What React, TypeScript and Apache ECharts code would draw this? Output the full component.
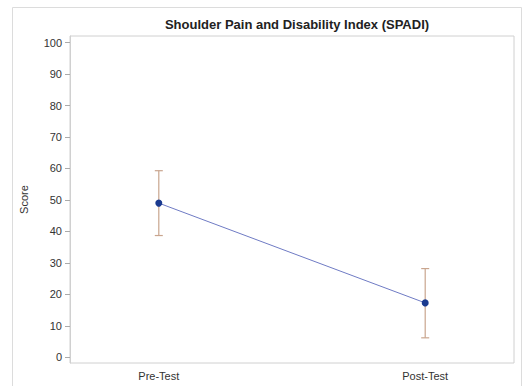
import React, { useEffect, useRef } from "react";
import * as echarts from "echarts";

const categories = ["Pre-Test", "Post-Test"];
const means = [49, 17.3];
const lowers = [38.7, 6.2];
const uppers = [59.3, 28.2];
const yTicks = [0, 10, 20, 30, 40, 50, 60, 70, 80, 90, 100];

export default function App() {
  const ref = useRef<HTMLDivElement>(null);
  useEffect(() => {
    if (!ref.current) return;
    const chart = echarts.init(ref.current, null, { renderer: "svg" });
    const lineData = means.map((m, i) => [i, m]);
    const errData = means.map((_, i) => [i, lowers[i], uppers[i]]);
    chart.setOption({
      animation: false,
      backgroundColor: "#fff",
      title: {
        text: "Shoulder Pain and Disability Index (SPADI)",
        left: 292,
        textAlign: "center",
        top: 13,
        textStyle: { fontFamily: "Liberation Sans, Arial, sans-serif", fontSize: 13, fontWeight: "bold", color: "#222" },
      },
      graphic: [
        {
          type: "rect",
          shape: { x: 12.5, y: 7.5, width: 509, height: 400 },
          style: { fill: "none", stroke: "#dcdcdc", lineWidth: 1 },
          silent: true,
          z: -1,
        },
      ],
      grid: { left: 70, right: 10, top: 36, bottom: 23, show: true, borderColor: "#d0d0d0", borderWidth: 1 },
      xAxis: {
        type: "value",
        min: -1 / 3,
        max: 4 / 3,
        splitLine: { show: false },
        axisLine: { show: false },
        axisTick: { show: false },
        axisLabel: {
          customValues: [0, 1],
          formatter: (v: number) => categories[Math.round(v)] ?? "",
          color: "#333",
          fontSize: 11,
          fontFamily: "Liberation Sans, Arial, sans-serif",
          margin: 7,
        },
      },
      yAxis: {
        type: "value",
        min: -1.8,
        max: 102.1,
        name: "Score",
        nameLocation: "middle",
        nameGap: 41,
        nameTextStyle: { color: "#333", fontSize: 11, fontFamily: "Liberation Sans, Arial, sans-serif" },
        splitLine: { show: false },
        axisLine: { show: true, onZero: false, lineStyle: { color: "#d0d0d0" } },
        axisTick: { show: true, customValues: yTicks, length: 5, lineStyle: { color: "#aaa" } },
        axisLabel: {
          customValues: yTicks,
          color: "#333",
          fontSize: 11,
          fontFamily: "Liberation Sans, Arial, sans-serif",
          margin: 8,
        },
      },
      series: [
        {
          type: "custom",
          data: errData,
          renderItem: (params: any, api: any) => {
            const x = api.value(0);
            const lo = api.coord([x, api.value(1)]);
            const hi = api.coord([x, api.value(2)]);
            const hw = 4;
            const style = { stroke: "#c9a58e", lineWidth: 1.2, fill: "none" };
            return {
              type: "group",
              children: [
                { type: "line", shape: { x1: lo[0], y1: lo[1], x2: hi[0], y2: hi[1] }, style },
                { type: "line", shape: { x1: lo[0] - hw, y1: lo[1], x2: lo[0] + hw, y2: lo[1] }, style },
                { type: "line", shape: { x1: hi[0] - hw, y1: hi[1], x2: hi[0] + hw, y2: hi[1] }, style },
              ],
            };
          },
          z: 1,
        },
        {
          type: "line",
          data: lineData,
          symbol: "circle",
          symbolSize: 7,
          lineStyle: { color: "#6f7bc4", width: 1 },
          itemStyle: { color: "#1a3a8f" },
          z: 3,
        },
      ],
    });
    return () => chart.dispose();
  }, []);
  return <div ref={ref} style={{ position: "absolute", left: 0, top: 0, width: 524, height: 386 }} />;
}
